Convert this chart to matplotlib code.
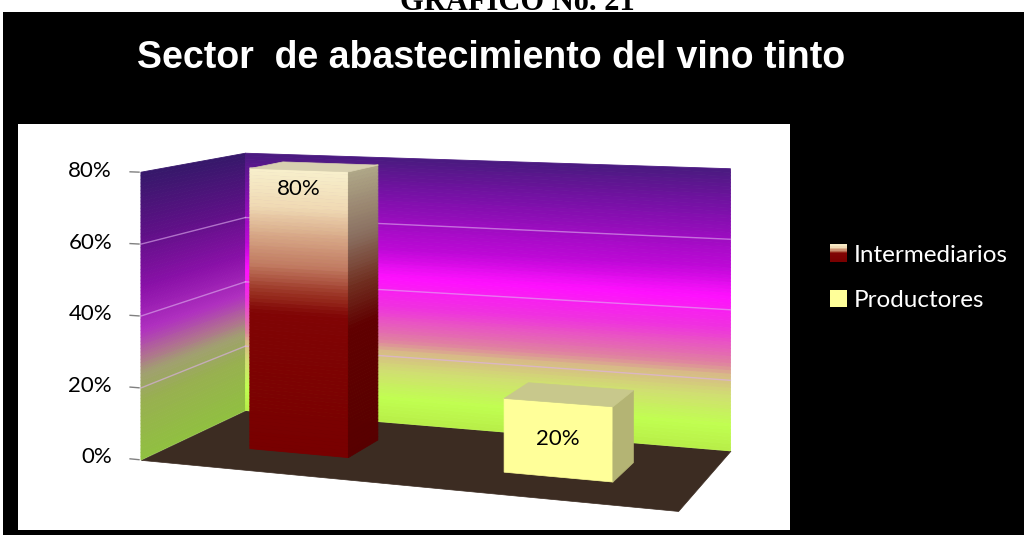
import numpy as np
import matplotlib.pyplot as plt
from matplotlib.colors import LinearSegmentedColormap
from matplotlib.patches import Rectangle, Patch
from matplotlib.legend_handler import HandlerBase
from mpl_toolkits.mplot3d.art3d import Poly3DCollection

# ---------------------------------------------------------------
# DATOS

encabezado = 'GRÁFICO No. 21'
titulo = 'Sector  de abastecimiento del vino tinto'
categorias = ['Intermediarios', 'Productores']
valores = [0.80, 0.20]
etiquetas = ['80%', '20%']
ticks_z = [0.0, 0.2, 0.4, 0.6, 0.8]
ticks_txt = ['0%', '20%', '40%', '60%', '80%']

# ---------------------------------------------------------------
# COLORES

fondo = LinearSegmentedColormap.from_list('fondo', [
    (0.00, '#b8ee48'), (0.09, '#c0ff50'), (0.19, '#d0e070'),
    (0.27, '#d8b888'), (0.31, '#e080a0'), (0.44, '#f030e0'),
    (0.55, '#ff10ff'), (0.65, '#c008d8'), (0.86, '#7a10a8'),
    (1.00, '#4a1a80')])
lateral = LinearSegmentedColormap.from_list('lateral', [
    (0.00, '#90c040'), (0.20, '#98b050'), (0.30, '#a0a070'),
    (0.36, '#b07090'), (0.45, '#b030c0'), (0.60, '#8a10a8'),
    (0.78, '#601088'), (1.00, '#36186a')])
vino = LinearSegmentedColormap.from_list('vino', [
    (0.00, '#780000'), (0.49, '#800404'), (0.56, '#983020'),
    (0.66, '#c07a60'), (0.77, '#d8aa88'), (0.87, '#f0dab4'),
    (1.00, '#f8f0cc')])
vino_lado = LinearSegmentedColormap.from_list('vino_lado', [
    (0.00, '#580000'), (0.45, '#600000'), (0.60, '#703020'),
    (0.77, '#8a7060'), (1.00, '#b0a888')])
amarillo = {'frente': '#ffff99', 'lado': '#b4b474', 'tope': '#c8c88c'}
piso = '#3c2c22'


def cara(ax, a, b, c, d, color, zorder):
    """Cuadrilatero plano de un solo color."""
    ax.add_collection3d(Poly3DCollection([[a, b, c, d]], facecolor=color,
                                         edgecolor=color, linewidths=0.5,
                                         zorder=zorder))


def cara_degradada(ax, base, ancho, alto, cmap, zmax, zorder, n=80):
    """Cara vertical en franjas horizontales coloreadas segun la altura.
    base: punto inferior izquierdo, ancho: vector horizontal, alto: altura."""
    base = np.asarray(base, float)
    ancho = np.asarray(ancho, float)
    zs = np.linspace(0, alto, n + 1)
    verts, cols = [], []
    for z0, z1 in zip(zs[:-1], zs[1:]):
        p0 = base + [0, 0, z0]
        p1 = base + [0, 0, z1]
        verts.append([p0, p0 + ancho, p1 + ancho, p1])
        cols.append(cmap((z0 + z1) / 2 / zmax))
    ax.add_collection3d(Poly3DCollection(verts, facecolors=cols,
                                         edgecolors=cols, linewidths=0.6,
                                         zorder=zorder))


class HandlerGradiente(HandlerBase):
    def create_artists(self, legend, orig_handle, xdescent, ydescent,
                       width, height, fontsize, trans):
        n = 12
        out = []
        for k in range(n):
            out.append(Rectangle((-xdescent, -ydescent + height * k / n),
                                 width, height / n + 0.3,
                                 facecolor=vino((k + 0.5) / n),
                                 edgecolor='none', transform=trans))
        return out


# ---------------------------------------------------------------
# FIGURA

W, H = 1024, 535
fig = plt.figure(figsize=(W / 100, H / 100), dpi=100)
fig.patch.set_facecolor('white')
fig.patches.append(Rectangle((3 / W, 0), 1, 1 - 12 / H,
                             transform=fig.transFigure, facecolor='black',
                             edgecolor='none', zorder=-3))
fig.patches.append(Rectangle((18 / W, 5 / H), 772 / W, 406 / H,
                             transform=fig.transFigure, facecolor='white',
                             edgecolor='none', zorder=-2))

fig.text(517 / W, 1 - 10 / H, encabezado, ha='center', va='baseline',
         fontsize=22, fontweight='bold', family='Liberation Serif')
fig.text(491 / W, 1 - 58 / H, titulo, ha='center', va='center',
         fontsize=27, fontweight='bold', family='Liberation Sans',
         color='white')

# camara a la altura del centro de los ejes (elev=0): las aristas
# verticales quedan verticales; el horizonte cae sobre el borde superior
lado = 1300
cx, cy = 421 / W, 1 - 10 / H
ax = fig.add_axes([cx - lado / W / 2, cy - lado / H / 2, lado / W, lado / H],
                  projection='3d', computed_zorder=False)
ax.set_proj_type('persp', focal_length=0.27)
ax.view_init(elev=0, azim=-70)
ax.set_xlim(0, 2)
ax.set_ylim(0, 1)
ax.set_zlim(0, 2.6)
ax.set_box_aspect((1.9, 0.83, 3.25), zoom=0.82)
ax.set_xticks([])
ax.set_yticks([])
ax.set_zticks([])
ax.set_axis_off()
ax.patch.set_alpha(0)

zmax = ticks_z[-1]
n_x = len(categorias)

# piso
cara(ax, (0, 0, 0), (n_x, 0, 0), (n_x, 1, 0), (0, 1, 0), piso, 1)

# pared lateral y pared de fondo
cara_degradada(ax, (0, 0, 0), (0, 1, 0), zmax, lateral, zmax, 1)
cara_degradada(ax, (0, 1, 0), (n_x, 0, 0), zmax, fondo, zmax, 1)

# lineas de division
for t in ticks_z[1:-1]:
    ax.plot([0, n_x], [1, 1], [t, t], color='#e0b0f0', lw=1, alpha=0.6,
            zorder=2)
    ax.plot([0, 0], [0, 1], [t, t], color='#e0b0f0', lw=1, alpha=0.6,
            zorder=2)

# eje de valores
for t, s in zip(ticks_z, ticks_txt):
    ax.plot([-0.045, -0.008], [0, 0], [t, t], color='#808080', lw=1,
            zorder=2)
    ax.text(-0.12, 0, t, s, ha='right', va='center', fontsize=16,
            family='Lato', color='black', zorder=6)

# columnas
ancho = 0.4
y0, y1 = 1 / 3, 2 / 3
for i, (v, s) in enumerate(zip(valores, etiquetas)):
    x0 = i + 0.5 - ancho / 2
    x1 = x0 + ancho
    if i == 0:
        cara_degradada(ax, (x0, y0, 0), (ancho, 0, 0), v, vino, zmax, 3)
        cara_degradada(ax, (x1, y0, 0), (0, y1 - y0, 0), v, vino_lado,
                       zmax, 3)
        tope = '#d8d0b0'
    else:
        cara(ax, (x0, y0, 0), (x1, y0, 0), (x1, y0, v), (x0, y0, v),
             amarillo['frente'], 3)
        cara(ax, (x1, y0, 0), (x1, y1, 0), (x1, y1, v), (x1, y0, v),
             amarillo['lado'], 3)
        tope = amarillo['tope']
    cara(ax, (x0, y0, v), (x1, y0, v), (x1, y1, v), (x0, y1, v), tope, 3)
    zt = v - 0.055 if v > 0.3 else v / 2
    ax.text((x0 + x1) / 2, y0, zt, s, ha='center', va='center',
            fontsize=16, family='Lato', color='black', zorder=6)

# leyenda
handles = [Patch(facecolor=vino(0.5)), Patch(facecolor=amarillo['frente'])]
fig.legend(handles, categorias, loc='center left',
           bbox_to_anchor=(808 / W, 1 - 278 / H), frameon=False,
           labelcolor='white', prop={'family': 'Lato', 'size': 17.5},
           handlelength=0.7, handleheight=0.7, handletextpad=0.3,
           labelspacing=1.0,
           handler_map={handles[0]: HandlerGradiente()})

fig.savefig('out.png', dpi=100)
